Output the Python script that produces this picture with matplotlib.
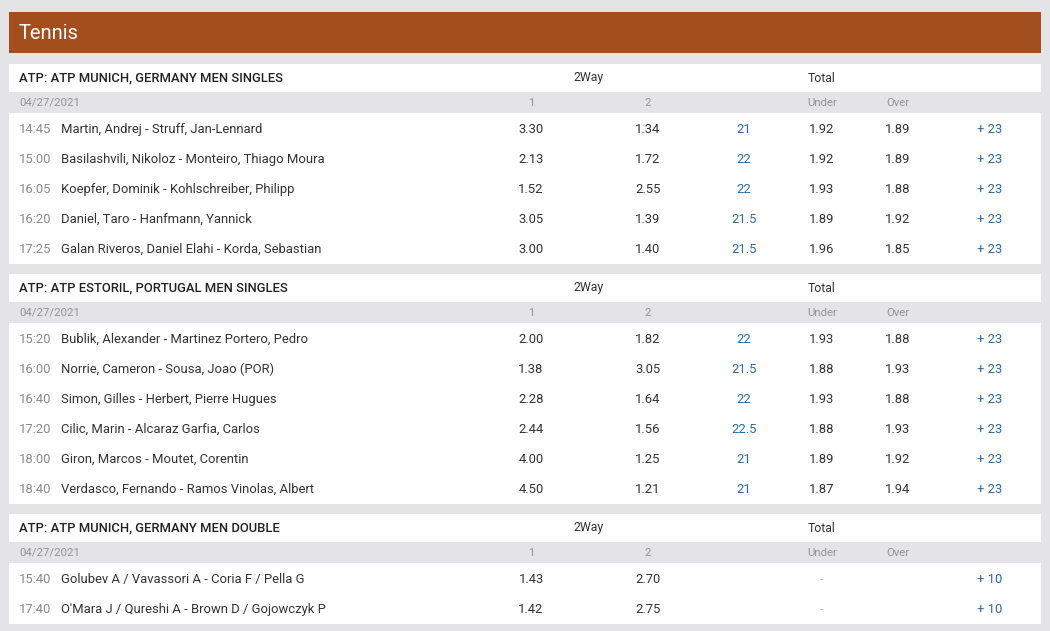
import matplotlib
matplotlib.use("Agg")
import matplotlib.pyplot as plt
from matplotlib.patches import Rectangle

plt.rcParams['font.family'] = ['Roboto', 'DejaVu Sans']

# ---- data ----
page_title = "Tennis"
section_titles = ["ATP: ATP MUNICH, GERMANY MEN SINGLES",
                  "ATP: ATP ESTORIL, PORTUGAL MEN SINGLES",
                  "ATP: ATP MUNICH, GERMANY MEN DOUBLE"]
section_dates = ["04/27/2021", "04/27/2021", "04/27/2021"]
col_headers = ["1", "2", "Under", "Over"]

times_1 = ["14:45", "15:00", "16:05", "16:20", "17:25"]
matches_1 = ["Martin, Andrej - Struff, Jan-Lennard",
             "Basilashvili, Nikoloz - Monteiro, Thiago Moura",
             "Koepfer, Dominik - Kohlschreiber, Philipp",
             "Daniel, Taro - Hanfmann, Yannick",
             "Galan Riveros, Daniel Elahi - Korda, Sebastian"]
odds1_1 = ["3.30", "2.13", "1.52", "3.05", "3.00"]
odds2_1 = ["1.34", "1.72", "2.55", "1.39", "1.40"]
total_1 = ["21", "22", "22", "21.5", "21.5"]
under_1 = ["1.92", "1.92", "1.93", "1.89", "1.96"]
over_1 = ["1.89", "1.89", "1.88", "1.92", "1.85"]
more_1 = ["+ 23"] * 5

times_2 = ["15:20", "16:00", "16:40", "17:20", "18:00", "18:40"]
matches_2 = ["Bublik, Alexander - Martinez Portero, Pedro",
             "Norrie, Cameron - Sousa, Joao (POR)",
             "Simon, Gilles - Herbert, Pierre Hugues",
             "Cilic, Marin - Alcaraz Garfia, Carlos",
             "Giron, Marcos - Moutet, Corentin",
             "Verdasco, Fernando - Ramos Vinolas, Albert"]
odds1_2 = ["2.00", "1.38", "2.28", "2.44", "4.00", "4.50"]
odds2_2 = ["1.82", "3.05", "1.64", "1.56", "1.25", "1.21"]
total_2 = ["22", "21.5", "22", "22.5", "21", "21"]
under_2 = ["1.93", "1.88", "1.93", "1.88", "1.89", "1.87"]
over_2 = ["1.88", "1.93", "1.88", "1.93", "1.92", "1.94"]
more_2 = ["+ 23"] * 6

times_3 = ["15:40", "17:40"]
matches_3 = ["Golubev A / Vavassori A - Coria F / Pella G",
             "O'Mara J / Qureshi A - Brown D / Gojowczyk P"]
odds1_3 = ["1.43", "1.42"]
odds2_3 = ["2.70", "2.75"]
total_3 = ["", ""]
under_3 = ["-", "-"]
over_3 = ["", ""]
more_3 = ["+ 10", "+ 10"]

sections = [
    (times_1, matches_1, odds1_1, odds2_1, total_1, under_1, over_1, more_1),
    (times_2, matches_2, odds1_2, odds2_2, total_2, under_2, over_2, more_2),
    (times_3, matches_3, odds1_3, odds2_3, total_3, under_3, over_3, more_3),
]

# ---- style ----
BG = "#e4e4e6"
BROWN = "#a44e1e"
DARK = "#333333"
GREY = "#8a8a8a"
LGREY = "#939393"
BLUE = "#2d6ba6"
FS = 9.4
DY = 1.5

fig = plt.figure(figsize=(10.5, 6.31), dpi=100)
fig.patch.set_facecolor(BG)
ax = fig.add_axes([0, 0, 1, 1])
ax.set_xlim(0, 1050)
ax.set_ylim(631, 0)
ax.axis("off")

X0, X1 = 9, 1041
ax.add_patch(Rectangle((X0, 12), X1 - X0, 41, color=BROWN, lw=0))
ax.text(19, 33 + 0.5, page_title, color="white", fontsize=14.5, va="center", ha="left")

x_time, x_match = 19, 61
x_o1, x_o2, x_tot, x_und, x_ovr, x_more = 531, 648, 744, 822, 898, 990
x_2way, x_total = 589, 822

y = 64
for title, date, sec in zip(section_titles, section_dates, sections):
    times, matches, o1, o2, tot, und, ovr, more = sec
    n = len(times)
    # header band
    ax.add_patch(Rectangle((X0, y), X1 - X0, 28, color="white", lw=0))
    ax.text(x_time, y + 14, title, color="#222222", fontsize=FS, fontweight="medium",
            va="center", ha="left")
    ax.text(x_2way, y + 14, "2Way", color=DARK, fontsize=FS - 0.6, va="center", ha="center")
    ax.text(x_total, y + 14, "Total", color=DARK, fontsize=FS - 0.6, va="center", ha="center")
    y += 28
    # date row (grey background)
    ax.text(x_time, y + 10.5 + 0.5, date, color=LGREY, fontsize=FS - 1.2, va="center", ha="left")
    for h, xx in zip(col_headers, [x_o1, x_o2, x_und, x_ovr]):
        ax.text(xx, y + 10.5 + 0.5, h, color=LGREY, fontsize=FS - 1.2, va="center", ha="center")
    y += 21
    # rows
    ax.add_patch(Rectangle((X0, y), X1 - X0, 30 * n + 1, color="white", lw=0))
    for i in range(n):
        yc = y + 15 + 30 * i + DY
        ax.text(x_time, yc, times[i], color=GREY, fontsize=FS, va="center", ha="left")
        ax.text(x_match, yc, matches[i], color=DARK, fontsize=FS, va="center", ha="left")
        ax.text(x_o1, yc, o1[i], color=DARK, fontsize=FS, va="center", ha="center")
        ax.text(x_o2, yc, o2[i], color=DARK, fontsize=FS, va="center", ha="center")
        ax.text(x_tot, yc, tot[i], color=BLUE, fontsize=FS, va="center", ha="center")
        ucol = "#bbbbbb" if und[i] == "-" else DARK
        ax.text(x_und, yc, und[i], color=ucol, fontsize=FS, va="center", ha="center")
        ax.text(x_ovr, yc, ovr[i], color=DARK, fontsize=FS, va="center", ha="center")
        ax.text(x_more, yc, more[i], color=BLUE, fontsize=FS, va="center", ha="center")
    y += 30 * n + 1 + 10

fig.savefig("out.png", dpi=100, facecolor=BG)
